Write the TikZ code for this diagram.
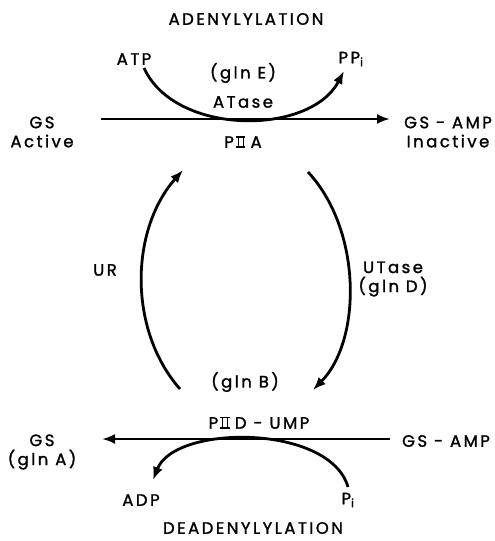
\documentclass[tikz,border=0pt]{standalone}
\usepackage{fontspec}
\setmainfont{Poppins}[LetterSpace=15,FakeBold=1.4]
\usetikzlibrary{arrows.meta}
% roman numeral two with top and bottom bars
\newcommand{\RomII}{\kern0.5pt\rlap{\rule{0.58em}{1.3pt}}\rlap{\rule[\dimexpr0.7em-1.3pt\relax]{0.58em}{1.3pt}}\kern0.1em\rule{1.4pt}{0.7em}\kern0.22em\rule{1.4pt}{0.7em}\kern0.1em}
\newcommand{\PII}{P\kern1.5pt\RomII}
\begin{document}
\begin{tikzpicture}[x=1pt,y=-1pt,
  lbl/.style={inner sep=0pt, font=\fontsize{16.5}{19}\selectfont, align=center},
  flow/.style={line width=2.8pt, -{Latex[length=13pt,width=10pt]}}]
\useasboundingbox (0,0) rectangle (495,541);

% adenylylation (top)
\node[lbl] (adtitle) at (246,19) {ADENYLYLATION};
\node[lbl] (atp) at (134,59) {ATP};
\node[lbl] (ppi) at (351,59) {PP\textsubscript{i}};
\node[lbl] (glnE) at (243,73) {(gln E)};
\node[lbl] (atase) at (243,102) {ATase};
\node[lbl] (gsact) at (42,132) {GS\\Active};
\node[lbl] (piia) at (243,142) {\PII\kern5pt A};
\node[lbl] (gsinact) at (448,132) {GS - AMP\\Inactive};

\coordinate (t1) at (101,119);
\coordinate (t2) at (390,119);
\draw[flow] (t1) -- (t2);
\coordinate (atpEnd) at (144,68);
\coordinate (ppiEnd) at (344,71);
\draw[flow] (atpEnd) .. controls (175,136) and (310,136) .. (ppiEnd);

% uridylylation cycle
\node[lbl] (ur) at (105,270) {UR};
\node[lbl] (utase) at (393,279) {UTase\\(gln D)};
\node[lbl] (glnB) at (245,382) {(gln B)};
\coordinate (l1) at (180,389);
\coordinate (l2) at (183,170);
\draw[flow] (l1) .. controls (128,330) and (130,230) .. (l2);
\coordinate (r1) at (308,172);
\coordinate (r2) at (313,390);
\draw[flow] (r1) .. controls (362,230) and (362,340) .. (r2);

% deadenylylation (bottom)
\node[lbl] (piid) at (259,423) {\PII\kern5pt D - UMP};
\node[lbl] (gsglnA) at (42,452) {GS\\(gln A)};
\node[lbl] (gsamp) at (446,441) {GS - AMP};
\node[lbl] (adp) at (141,500) {ADP};
\node[lbl] (pi) at (348,500) {P\textsubscript{i}};
\node[lbl] (detitle) at (253,528) {DEADENYLYLATION};

\coordinate (b1) at (390,439);
\coordinate (b2) at (102,439);
\draw[flow] (b1) -- (b2);
\coordinate (piEnd) at (348,487);
\coordinate (adpEnd) at (153,480);
\draw[flow] (piEnd) .. controls (330,424) and (175,424) .. (adpEnd);
\end{tikzpicture}
\end{document}
